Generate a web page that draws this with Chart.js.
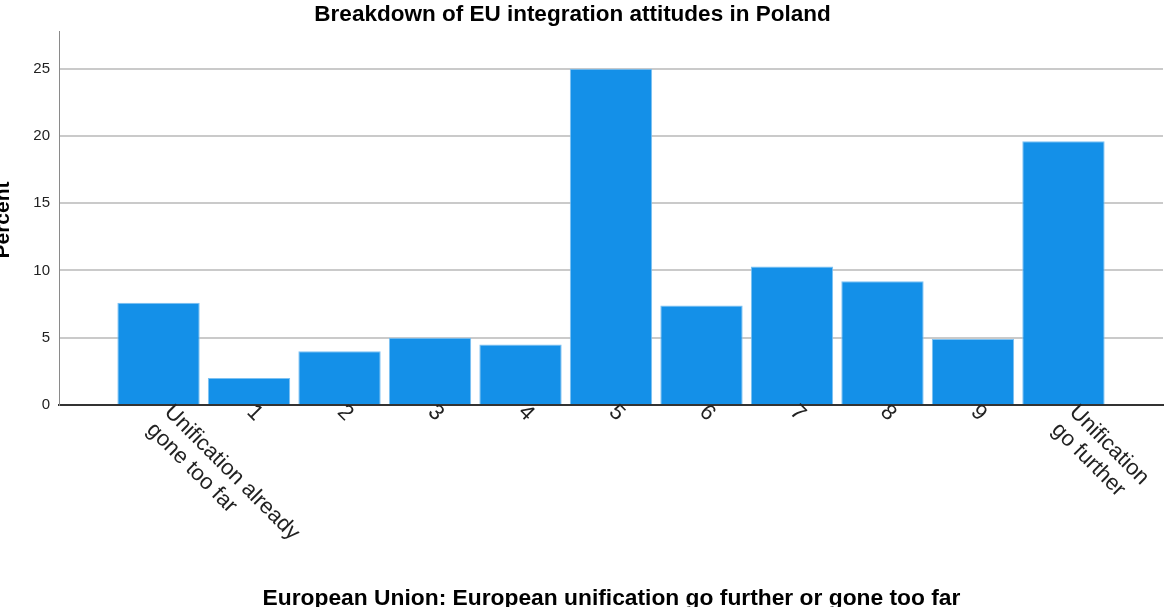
<!DOCTYPE html>
<html>
<head>
<meta charset="utf-8">
<script src="https://cdn.jsdelivr.net/npm/chart.js@4"></script>
<style>
  html, body { margin: 0; padding: 0; background: #fff; }
  #wrap { width: 1165px; height: 607px; }
</style>
</head>
<body>
<div id="wrap"><canvas id="chart" width="1165" height="607"></canvas></div>
<script>
// Datos
const categoryLabels = ['Unification already\ngone too far', '1', '2', '3', '4', '5', '6', '7', '8', '9', 'Unification\ngo further'];
const percentValues = [7.6, 2.0, 4.0, 5.0, 4.5, 25.0, 7.4, 10.3, 9.2, 4.9, 19.6];
const yTicks = [0, 5, 10, 15, 20, 25];

const chartTitle = 'Breakdown of EU integration attitudes in Poland';
const xTitle = 'European Union: European unification go further or gone too far';
const yTitle = 'Percent';

const FONT = '"Liberation Sans", Arial, sans-serif';

// Textos propios: etiquetas rotadas del eje x, título y títulos de ejes
const textPlugin = {
    id: 'textPlugin',
    afterDraw: (chart) => {
        const ctx = chart.ctx;
        const xScale = chart.scales.x;

        ctx.save();
        ctx.fillStyle = '#222';

        // 1. Etiquetas del eje x giradas 45°
        ctx.font = '22px ' + FONT;
        ctx.textAlign = 'left';
        ctx.textBaseline = 'top';
        categoryLabels.forEach((label, i) => {
            const lines = label.split('\n');
            const px = xScale.getPixelForValue(i) + (lines.length > 1 ? 17 : 9);
            const py = 401;
            ctx.save();
            ctx.translate(px, py);
            ctx.rotate(Math.PI / 4);
            lines.forEach((line, j) => {
                ctx.fillText(line, 0, j * 25);
            });
            ctx.restore();
        });

        // 2. Título
        ctx.fillStyle = '#000';
        ctx.font = 'bold 22.5px ' + FONT;
        ctx.textAlign = 'center';
        ctx.textBaseline = 'alphabetic';
        ctx.fillText(chartTitle, 572.5, 20.5);

        // 3. Título del eje x
        ctx.font = 'bold 22.8px ' + FONT;
        ctx.fillText(xTitle, 611.5, 604.5);

        // 4. Título del eje y
        ctx.save();
        ctx.translate(9, (chart.chartArea.top + chart.chartArea.bottom) / 2 + 2);
        ctx.rotate(-Math.PI / 2);
        ctx.font = 'bold 21px ' + FONT;
        ctx.fillText(yTitle, 0, 0);
        ctx.restore();

        ctx.restore();
    }
};

const config = {
    type: 'bar',
    data: {
        datasets: [{
            label: yTitle,
            data: percentValues.map((v, i) => ({ x: i, y: v })),
            backgroundColor: '#1490e8',
            borderColor: '#7cc1f2',
            borderWidth: 1,
            categoryPercentage: 0.91,
            barPercentage: 1.0
        }]
    },
    options: {
        responsive: false,
        animation: false,
        layout: { padding: { top: 31, right: 2, left: 0, bottom: 0 } },
        plugins: {
            legend: { display: false },
            title: { display: false },
            tooltip: { enabled: false }
        },
        scales: {
            x: {
                type: 'linear',
                min: -1.1,
                max: 11.1,
                offset: false,
                ticks: { display: false },
                grid: { display: false, drawTicks: false },
                border: { display: true, color: '#333', width: 2 },
                afterFit: (scale) => { scale.height = 202; }
            },
            y: {
                min: 0,
                max: 27.8,
                afterBuildTicks: (scale) => { scale.ticks = yTicks.map(v => ({ value: v })); },
                ticks: {
                    padding: 9,
                    color: '#222',
                    font: { family: FONT, size: 15 }
                },
                grid: {
                    drawTicks: false,
                    lineWidth: 2,
                    color: (c) => c.tick && c.tick.value === 0 ? 'rgba(0,0,0,0)' : '#cacaca'
                },
                border: { display: true, color: '#8a8a8a', width: 1 },
                afterFit: (scale) => { scale.width = 59; }
            }
        }
    },
    plugins: [textPlugin]
};

const chart = new Chart(document.getElementById('chart'), config);
</script>
</body>
</html>
